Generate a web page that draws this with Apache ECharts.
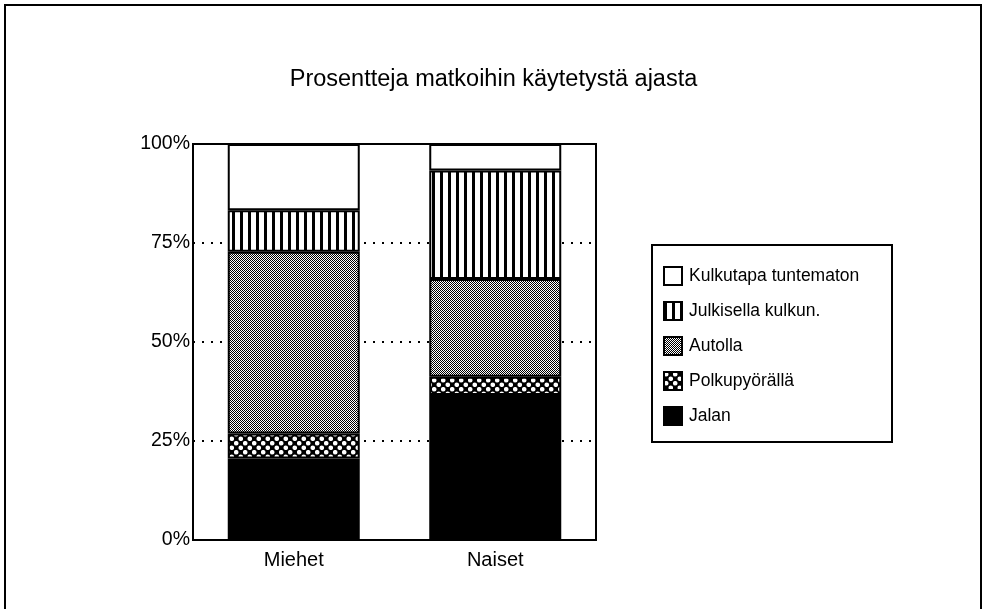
<!DOCTYPE html>
<html>
<head>
<meta charset="utf-8">
<script src="https://cdn.jsdelivr.net/npm/echarts@6/dist/echarts.min.js"></script>
<style>
  html, body { margin: 0; padding: 0; background: #fff; }
  #chart { width: 987px; height: 609px; }
</style>
</head>
<body>
<div id="chart"></div>
<script>
var categories = ['Miehet', 'Naiset'];
var seriesNames = ['Jalan', 'Polkupyörällä', 'Autolla', 'Julkisella kulkun.', 'Kulkutapa tuntematon'];
var jalan = [20.6, 36.6];
var polkupyoralla = [6.3, 4.6];
var autolla = [45.9, 24.7];
var julkisella = [10.5, 27.4];
var tuntematon = [16.7, 6.7];
var yTicks = [0, 25, 50, 75, 100];

// small canvas tiles used as fill patterns
function tile(w, h, draw) {
    var c = document.createElement('canvas');
    c.width = w;
    c.height = h;
    draw(c.getContext('2d'));
    return { image: c, repeat: 'repeat' };
}

var solidBlack = '#000';
var dotsPattern = tile(9, 9, function (ctx) {
    ctx.fillStyle = '#000';
    ctx.fillRect(0, 0, 9, 9);
    ctx.fillStyle = '#fff';
    ctx.beginPath(); ctx.arc(2.25, 2.25, 2.3, 0, Math.PI * 2); ctx.fill();
    ctx.beginPath(); ctx.arc(6.75, 6.75, 2.3, 0, Math.PI * 2); ctx.fill();
});
var checkPattern = tile(2, 2, function (ctx) {
    ctx.fillStyle = '#fff';
    ctx.fillRect(0, 0, 2, 2);
    ctx.fillStyle = '#000';
    ctx.fillRect(0, 0, 1, 1);
    ctx.fillRect(1, 1, 1, 1);
});
var stripePattern = tile(8, 8, function (ctx) {
    ctx.fillStyle = '#fff';
    ctx.fillRect(0, 0, 8, 8);
    ctx.fillStyle = '#000';
    ctx.fillRect(0, 0, 3, 8);
});

var values = [jalan, polkupyoralla, autolla, julkisella, tuntematon];
var fills = [solidBlack, dotsPattern, checkPattern, stripePattern, '#fff'];

var series = [];
for (var i = 0; i < seriesNames.length; i++) {
    series.push({
        name: seriesNames[i],
        type: 'bar',
        stack: 'total',
        barWidth: 132,
        data: values[i],
        itemStyle: {
            color: fills[i],
            borderColor: '#000',
            borderWidth: 2
        }
    });
}

var chart = echarts.init(document.getElementById('chart'));
var option = {
    animation: false,
    backgroundColor: '#fff',
    textStyle: { fontFamily: 'Liberation Sans, Arial, sans-serif', color: '#000' },
    title: {
        text: 'Prosentteja matkoihin käytetystä ajasta',
        left: 'center',
        top: 63,
        textStyle: { fontSize: 23.5, fontWeight: 'normal', color: '#000' }
    },
    graphic: [
        { type: 'rect', shape: { x: 5, y: 5, width: 976, height: 620 },
          style: { fill: null, stroke: '#000', lineWidth: 2 }, z: -1 },
        { type: 'rect', shape: { x: 652, y: 245, width: 240, height: 197 },
          style: { fill: '#fff', stroke: '#000', lineWidth: 2 }, z: -1 }
    ],
    legend: {
        data: seriesNames.slice().reverse(),
        orient: 'vertical',
        left: 658,
        top: 261,
        icon: 'rect',
        itemWidth: 18,
        itemHeight: 18,
        itemGap: 15,
        textStyle: { fontSize: 17.5, color: '#000', padding: [0, 0, 0, 2] }
    },
    grid: {
        left: 193,
        right: 391,
        top: 144,
        bottom: 69,
        show: true,
        borderColor: '#000',
        borderWidth: 2
    },
    xAxis: {
        type: 'category',
        data: categories,
        axisLine: { lineStyle: { color: '#000', width: 2 } },
        axisTick: { show: false },
        axisLabel: { fontSize: 20, color: '#000', margin: 10 }
    },
    yAxis: {
        type: 'value',
        min: yTicks[0],
        max: yTicks[yTicks.length - 1],
        interval: 25,
        axisLine: { show: true, lineStyle: { color: '#000', width: 2 } },
        axisTick: { show: false },
        axisLabel: { fontSize: 19.5, color: '#000', margin: 3, formatter: '{value}%' },
        splitLine: { lineStyle: { color: '#000', width: 2, type: [2, 7] } }
    },
    series: series
};
chart.setOption(option);
</script>
</body>
</html>
